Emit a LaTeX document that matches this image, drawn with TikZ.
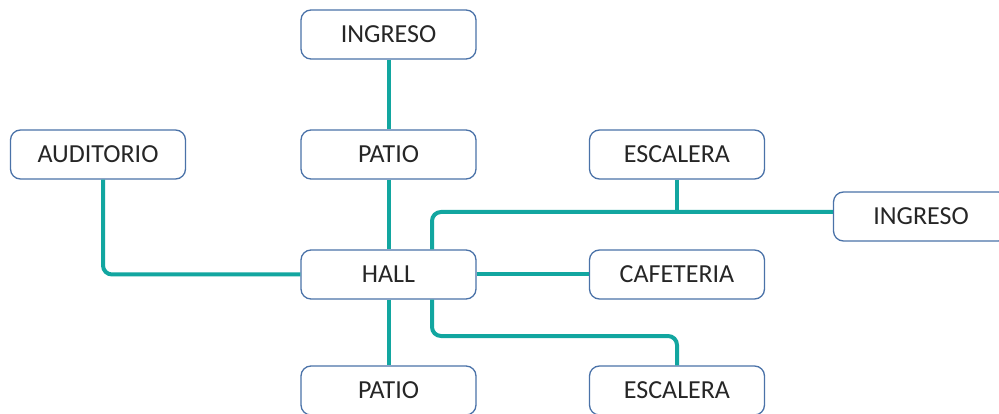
\documentclass[tikz,border=0pt]{standalone}
\usepackage{fontspec}
\setmainfont{Carlito}
\definecolor{boxblue}{RGB}{74,114,168}
\definecolor{linkteal}{RGB}{18,166,160}
\definecolor{textgray}{RGB}{38,38,38}
\tikzset{
  box/.style={draw=boxblue, line width=1.3pt, rounded corners=10pt, fill=white,
    minimum width=175pt, minimum height=49pt, inner sep=0pt,
    font=\fontsize{26}{28}\selectfont, text=textgray},
  link/.style={draw=linkteal, line width=4pt, rounded corners=9pt}
}
\begin{document}
\begin{tikzpicture}[x=1pt,y=-1pt]
\useasboundingbox (0,0) rectangle (999,414);

% rooms
\node[box] (ing1) at (388.5,34.5) {INGRESO};
\node[box] (aud)  at (98,154.5)   {AUDITORIO};
\node[box] (pat1) at (388.5,154.5) {PATIO};
\node[box] (esc1) at (677,154.5)  {ESCALERA};
\node[box] (ing2) at (921,216.5)  {INGRESO};
\node[box] (hall) at (388.5,274.5) {HALL};
\node[box] (caf)  at (677,274.5)  {CAFETERIA};
\node[box] (pat2) at (388.5,390.5) {PATIO};
\node[box] (esc2) at (677,390.5)  {ESCALERA};

% junction points of the corridors
\coordinate (j) at (677,212);
\coordinate (k) at (677,336);

% corridors
\draw[link] (ing1) -- (pat1);
\draw[link] (pat1) -- (hall);
\draw[link] ([xshift=5pt]aud.south) |- (hall.west);
\draw[link] (hall) -- (caf);
\draw[link] (hall) -- (pat2);
\draw[link] ([xshift=43.5pt]hall.north) |- (j) -- (ing2.west |- j);
\draw[link] (esc1) -- (j);
\draw[link] ([xshift=43.5pt]hall.south) |- (k) -- (esc2.north);
\end{tikzpicture}
\end{document}
